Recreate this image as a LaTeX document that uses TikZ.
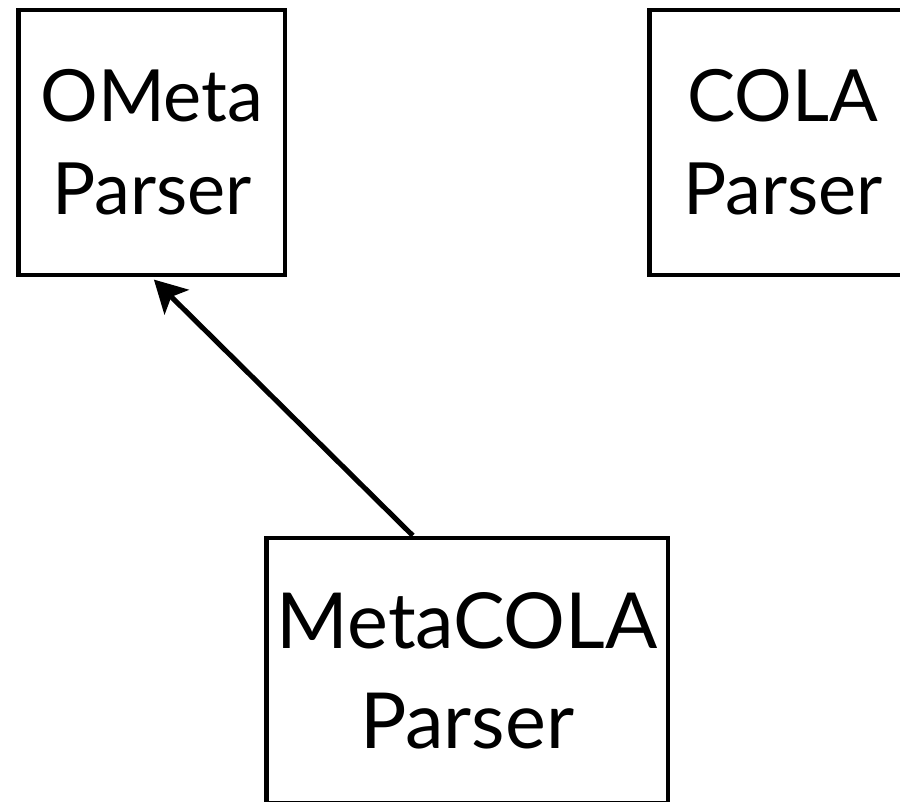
\documentclass[tikz,border=0pt]{standalone}
\usepackage{fontspec}
\setmainfont{Lato}
\usepackage{tikz}
\usetikzlibrary{arrows.meta, positioning}

\begin{document}
\begin{tikzpicture}[
  parser/.style={draw, line width=2.8pt, align=center, inner sep=0pt,
    minimum width=5.33cm, minimum height=5.3cm, font=\fontsize{41}{53}\selectfont},
  bigparser/.style={parser, minimum width=8.03cm, font=\fontsize{44}{57}\selectfont},
  arrow/.style={-{Stealth[length=0.64cm, width=0.69cm, inset=0.15cm]}, line width=2.9pt}
]
\useasboundingbox (0,0) rectangle (18,-16.04);
\node[parser] (ometa) at (3.035,-2.85) {OMeta\\Parser};
\node[parser] (cola) at (15.66,-2.85) {COLA\\Parser};
\node[bigparser] (metacola) at (9.345,-13.41) {MetaCOLA\\Parser};

\draw[arrow, shorten >=0.06cm] (metacola.112) -- (ometa.south);
\end{tikzpicture}
\end{document}
